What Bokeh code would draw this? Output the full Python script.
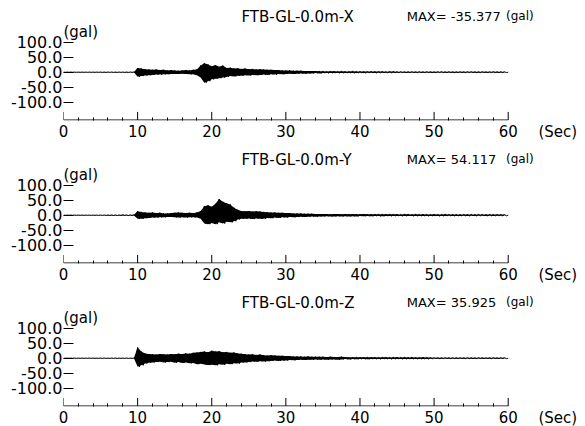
from bokeh.plotting import figure
from bokeh.models import Range1d, FixedTicker, PrintfTickFormatter, Label
from bokeh.layouts import column
from bokeh.embed import file_html
from bokeh.resources import INLINE

# ---- data ----
# time bins (s); each bin has a positive and a negative peak (gal)
BIN = 0.5
T = [i * BIN for i in range(120)]

x_up = [0.4, 0.4, 0.4, 0.4, 0.4, 0.4, 0.4, 0.4, 0.4, 0.4,
        0.6, 0.6, 0.7, 0.6, 0.6, 0.7, 0.6, 0.6, 0.7, 0.6,
        14, 12, 10, 9, 8, 9, 7, 8, 6, 7,
        6, 5, 6, 7, 6, 8, 9, 22, 30, 26,
        20, 24, 18, 22, 14, 15, 12, 13, 11, 12,
        10, 11, 9, 10, 9, 8, 8, 7, 7, 6,
        6, 6, 5, 5, 5, 4, 4, 4, 4, 3,
        3, 2.5, 3, 3, 2.5, 3, 2.5, 2.5, 3, 2.5,
        2.5, 2, 2, 2.5, 2, 2, 2, 1.5, 2, 2,
        1.5, 1.5, 1.2, 1.5, 1.5, 1.2, 1.5, 1.2, 1.5, 1.5,
        1.2, 1.5, 1.5, 1.2, 1.5, 1.2, 1.2, 1.5, 1.2, 1.5,
        1.5, 1.2, 1.2, 1.5, 1.2, 1.2, 1.5, 1.2, 1.2, 1.2]
x_dn = [0.4, 0.4, 0.4, 0.4, 0.4, 0.4, 0.4, 0.4, 0.4, 0.4,
        0.6, 0.7, 0.6, 0.6, 0.7, 0.6, 0.6, 0.7, 0.6, 0.6,
        15, 13, 11, 10, 9, 8, 8, 7, 7, 6,
        6, 6, 5, 6, 7, 7, 10, 18, 35, 30,
        24, 22, 20, 18, 16, 13, 14, 12, 12, 10,
        11, 9, 10, 9, 8, 9, 7, 8, 6, 7,
        6, 5, 6, 5, 4, 5, 4, 4, 3, 4,
        2.5, 3, 3, 2.5, 3, 2.5, 3, 2.5, 2.5, 3,
        2, 2.5, 2, 2, 2.5, 2, 1.5, 2, 2, 1.5,
        1.5, 1.2, 1.5, 1.5, 1.2, 1.5, 1.2, 1.5, 1.2, 1.5,
        1.5, 1.2, 1.2, 1.5, 1.2, 1.5, 1.5, 1.2, 1.5, 1.2,
        1.2, 1.5, 1.5, 1.2, 1.5, 1.2, 1.2, 1.5, 1.2, 1.2]

y_up = [0.4, 0.4, 0.4, 0.4, 0.4, 0.4, 0.4, 0.4, 0.4, 0.4,
        0.5, 0.5, 0.8, 1, 1, 1, 1.2, 1, 1, 1.2,
        13, 11, 9, 8, 9, 7, 8, 6, 6, 7,
        8, 9, 8, 7, 8, 7, 9, 14, 30, 33,
        28, 38, 54, 45, 40, 36, 25, 18, 14, 13,
        14, 12, 13, 12, 11, 10, 9, 9, 8, 8,
        7, 7, 6, 6, 6, 5, 5, 5, 4, 4,
        4, 4, 3.5, 4, 4, 3.5, 4, 3.5, 4, 3.5,
        3.5, 4, 3.5, 3, 3.5, 3, 3, 3.5, 3, 3,
        3, 2.5, 3, 3, 2.5, 3, 2.5, 3, 2.5, 2.5,
        3, 2.5, 2.5, 3, 2.5, 2.5, 2.5, 2, 2.5, 2.5,
        2.5, 2, 2.5, 2.5, 2, 2.5, 2, 2.5, 2, 2]
y_dn = [0.4, 0.4, 0.4, 0.4, 0.4, 0.4, 0.4, 0.4, 0.4, 0.4,
        0.5, 0.6, 0.8, 1, 1.2, 1, 1, 1.2, 1, 1,
        12, 12, 10, 9, 8, 8, 7, 7, 6, 6,
        7, 8, 7, 8, 7, 7, 8, 12, 28, 30,
        26, 30, 24, 28, 22, 24, 20, 14, 12, 12,
        11, 13, 11, 12, 12, 9, 10, 8, 9, 7,
        8, 6, 7, 6, 5, 6, 5, 4, 5, 4,
        4, 3.5, 4, 4, 3.5, 4, 3.5, 4, 3.5, 4,
        3, 3.5, 3, 3.5, 3, 3, 3.5, 3, 3, 3,
        2.5, 3, 2.5, 2.5, 3, 2.5, 3, 2.5, 3, 2.5,
        2.5, 3, 2.5, 2.5, 2, 2.5, 2.5, 2.5, 2, 2.5,
        2, 2.5, 2, 2, 2.5, 2, 2.5, 2, 2, 2]

z_up = [0.4, 0.4, 0.4, 0.4, 0.4, 0.4, 0.4, 0.4, 0.4, 0.4,
        0.5, 0.6, 0.5, 0.6, 0.6, 0.5, 0.6, 0.6, 0.5, 0.6,
        36, 22, 16, 14, 13, 12, 14, 13, 12, 14,
        13, 15, 14, 16, 15, 18, 19, 21, 22, 20,
        25, 22, 23, 20, 21, 18, 19, 16, 15, 13,
        12, 13, 11, 12, 10, 9, 10, 9, 8, 8,
        7, 7, 6, 6, 6, 5, 6, 5, 5, 5,
        5, 4, 5, 4, 4, 5, 4, 3, 3.5, 3,
        3, 3.5, 3, 3, 3, 2.5, 3, 3, 2.5, 3,
        3, 2.5, 3, 2.5, 3, 2.5, 2.5, 3, 2.5, 2,
        1.5, 1.5, 1.2, 1.5, 1.5, 1.2, 1.5, 1.5, 1.2, 1.5,
        1.5, 1.2, 1.5, 1.5, 1.2, 1.5, 1.5, 1.2, 1.5, 1.5]
z_dn = [0.4, 0.4, 0.4, 0.4, 0.4, 0.4, 0.4, 0.4, 0.4, 0.4,
        0.6, 0.5, 0.6, 0.5, 0.6, 0.6, 0.5, 0.6, 0.6, 0.5,
        29, 24, 18, 15, 14, 13, 12, 14, 13, 12,
        15, 13, 16, 14, 17, 16, 20, 19, 21, 23,
        22, 24, 20, 22, 19, 20, 17, 18, 14, 14,
        13, 11, 12, 10, 11, 10, 9, 8, 9, 8,
        8, 6, 7, 6, 5, 6, 5, 5, 4, 5,
        4, 5, 4, 4, 5, 4, 3, 4, 3, 3.5,
        3, 3, 3.5, 3, 2.5, 3, 3, 2.5, 3, 3,
        2.5, 3, 2.5, 3, 2.5, 2.5, 3, 2.5, 2.5, 2,
        1.2, 1.5, 1.5, 1.2, 1.5, 1.2, 1.5, 1.2, 1.5, 1.2,
        1.5, 1.5, 1.2, 1.5, 1.2, 1.5, 1.2, 1.5, 1.2, 1.5]

titles = ["FTB-GL-0.0m-X", "FTB-GL-0.0m-Y", "FTB-GL-0.0m-Z"]
max_texts = ["MAX= -35.377", "MAX= 54.117", "MAX= 35.925"]
y_ticks = [-100, -50, 0, 50, 100]
x_ticks = [0, 10, 20, 30, 40, 50, 60]
x_minor = [2, 4, 6, 8, 12, 14, 16, 18, 22, 24, 26, 28, 32, 34, 36, 38,
           42, 44, 46, 48, 52, 54, 56, 58]
unit_x_pos = 66.7          # where "(Sec)" sits on the time axis
unit_x_text = "(Sec)"

FONT = "DejaVu Sans"
Y0, Y1 = -161.7, 240.0     # data range of each panel's frame
AX_Y = -160.0              # time-axis line level


def panel(up, dn, title, maxtxt, bottom):
    p = figure(frame_width=504, frame_height=120,
               x_range=Range1d(0, 68), y_range=Range1d(Y0, Y1),
               output_backend="svg", toolbar_location=None,
               min_border_left=63, min_border_right=13,
               min_border_top=0, min_border_bottom=bottom)
    p.grid.visible = False
    p.outline_line_color = None
    p.background_fill_color = "white"
    p.border_fill_color = "white"

    # envelope + trace
    p.varea(x=T, y1=[-d for d in dn], y2=up, fill_color="black", fill_alpha=1)
    xs, ys = [], []
    for t, u, d in zip(T, up, dn):
        xs += [t, t + BIN / 2]
        ys += [u, -d]
    xs.append(60.0)
    ys.append(0.0)
    p.line(xs, ys, line_color="black", line_width=1)

    # time axis line and major ticks (stop at 60 s)
    p.line([x_ticks[0], x_ticks[-1]], [AX_Y, AX_Y], line_color="black", line_width=1)
    p.segment(x0=x_ticks, y0=[AX_Y] * len(x_ticks), x1=x_ticks,
              y1=[AX_Y + 27] * len(x_ticks), line_color="black", line_width=1)

    ya = p.yaxis[0]
    ya.ticker = FixedTicker(ticks=y_ticks)
    ya.formatter = PrintfTickFormatter(format="%.1f")
    ya.axis_line_color = None
    ya.major_tick_in = 10
    ya.major_tick_out = 0
    ya.minor_tick_in = 0
    ya.minor_tick_out = 0
    ya.minor_tick_line_color = None
    ya.major_tick_line_color = "black"
    ya.major_label_standoff = 1
    ya.major_label_text_font = FONT
    ya.major_label_text_font_size = "16px"
    ya.major_label_text_color = "black"

    xa = p.xaxis[0]
    xa.ticker = FixedTicker(ticks=x_ticks + [unit_x_pos], minor_ticks=x_minor)
    xa.major_label_overrides = {unit_x_pos: unit_x_text}
    xa.axis_line_color = None
    xa.major_tick_line_color = None
    xa.major_tick_in = 0
    xa.major_tick_out = 0
    xa.minor_tick_in = 3
    xa.minor_tick_out = 0
    xa.minor_tick_line_color = "black"
    xa.major_label_standoff = 2
    xa.major_label_text_font = FONT
    xa.major_label_text_font_size = "15px"
    xa.major_label_text_color = "black"

    p.add_layout(Label(x=0, y=133, text="(gal)", text_font=FONT,
                       text_font_size="15px", text_baseline="middle",
                       text_align="left", text_color="black"))
    p.add_layout(Label(x=24.0, y=186, text=title, text_font=FONT,
                       text_font_size="15px", text_baseline="middle",
                       text_align="left", text_color="black"))
    p.add_layout(Label(x=46.3, y=186, text=maxtxt, text_font=FONT,
                       text_font_size="13px", text_baseline="middle",
                       text_align="left", text_color="black"))
    p.add_layout(Label(x=59.7, y=188, text="(gal)", text_font=FONT,
                       text_font_size="12px", text_baseline="middle",
                       text_align="left", text_color="black"))
    return p


p1 = panel(x_up, x_dn, titles[0], max_texts[0], 23)
p2 = panel(y_up, y_dn, titles[1], max_texts[1], 23)
p3 = panel(z_up, z_dn, titles[2], max_texts[2], 20)

layout = column(p1, p2, p3, spacing=0)
open("out.html", "w").write(file_html(layout, INLINE))
